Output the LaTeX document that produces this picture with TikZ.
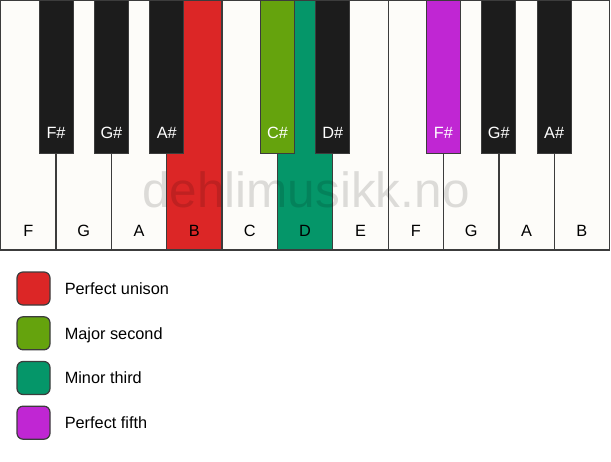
\documentclass[tikz,border=0pt]{standalone}
\usepackage{fontspec}
\setmainfont{Liberation Sans}
\usepackage{xcolor}
\usepackage{tikz}
\usetikzlibrary{positioning}
\definecolor{keywhite}{HTML}{FDFCF9}
\definecolor{keyblack}{HTML}{1C1C1C}
\definecolor{keyedge}{HTML}{3C3C3C}
\definecolor{unison}{HTML}{DC2626}
\definecolor{second}{HTML}{65A30D}
\definecolor{third}{HTML}{059669}
\definecolor{fifth}{HTML}{C026D3}
\newcommand{\keyfont}{\fontsize{16.3}{16.3}\selectfont}

\begin{document}
\begin{tikzpicture}[x=1pt, y=-1pt,
                          whitekey/.style={draw=keyedge, line width=1.3pt, fill=keywhite},
                          blackkey/.style={draw=keyedge, line width=1pt, fill=keyblack},
                          wlabel/.style={anchor=base, font=\keyfont, text=black},
                          blabel/.style={anchor=base, font=\keyfont, text=white},
                          watermark/.style={anchor=base, font=\fontsize{49.5}{49.5}\selectfont, text=black, text opacity=0.13},
                          legbox/.style={draw=keyedge, line width=1.2pt, rounded corners=6pt, minimum size=33pt, inner sep=0pt},
                          legtext/.style={inner sep=0pt, text height=11.5pt, text depth=0pt, font=\keyfont},
                         ]

\useasboundingbox (0,0) rectangle (611,461);

% white keys
\draw[whitekey] (0.7,0.7) rectangle (56.05,250);
\draw[whitekey] (56.05,0.7) rectangle (111.4,250);
\draw[whitekey] (111.4,0.7) rectangle (166.75,250);
\draw[whitekey, fill=unison] (166.75,0.7) rectangle (222.1,250);
\draw[whitekey] (222.1,0.7) rectangle (277.45,250);
\draw[whitekey, fill=third] (277.45,0.7) rectangle (332.8,250);
\draw[whitekey] (332.8,0.7) rectangle (388.15,250);
\draw[whitekey] (388.15,0.7) rectangle (443.5,250);
\draw[whitekey] (443.5,0.7) rectangle (498.85,250);
\draw[whitekey] (498.85,0.7) rectangle (554.2,250);
\draw[whitekey] (554.2,0.7) rectangle (609.55,250);

\node[wlabel] (F1) at (28.4,236) {F};
\node[wlabel] (G1) at (83.7,236) {G};
\node[wlabel] (A1) at (139.1,236) {A};
\node[wlabel] (B1) at (194.4,236) {B};
\node[wlabel] (C1) at (249.8,236) {C};
\node[wlabel] (D1) at (305.1,236) {D};
\node[wlabel] (E1) at (360.5,236) {E};
\node[wlabel] (F2) at (415.8,236) {F};
\node[wlabel] (G2) at (471.2,236) {G};
\node[wlabel] (A2) at (526.5,236) {A};
\node[wlabel] (B2) at (581.9,236) {B};

\node[watermark] (mark) at (305.9,207) {dehlimusikk.no};

% black keys
\draw[blackkey] (39.05,0.7) rectangle (73.05,153);
\draw[blackkey] (94.4,0.7) rectangle (128.4,153);
\draw[blackkey] (149.75,0.7) rectangle (183.75,153);
\draw[blackkey, fill=second] (260.45,0.7) rectangle (294.45,153);
\draw[blackkey] (315.8,0.7) rectangle (349.8,153);
\draw[blackkey, fill=fifth] (426.5,0.7) rectangle (460.5,153);
\draw[blackkey] (481.85,0.7) rectangle (515.85,153);
\draw[blackkey] (537.2,0.7) rectangle (571.2,153);

\node[blabel] (Fs1) at (56.05,138.3) {F\#};
\node[blabel] (Gs1) at (111.4,138.3) {G\#};
\node[blabel] (As1) at (166.75,138.3) {A\#};
\node[blabel] (Cs1) at (277.45,138.3) {C\#};
\node[blabel] (Ds1) at (332.8,138.3) {D\#};
\node[blabel] (Fs2) at (443.5,138.3) {F\#};
\node[blabel] (Gs2) at (498.85,138.3) {G\#};
\node[blabel] (As2) at (554.2,138.3) {A\#};

% legend
\node[legbox, fill=unison] (unisonbox) at (33.5,288.5) {};
\node[legbox, fill=second] (secondbox) at (33.5,333.3) {};
\node[legbox, fill=third] (thirdbox) at (33.5,378) {};
\node[legbox, fill=fifth] (fifthbox) at (33.5,422.7) {};

\node[legtext, right=14pt of unisonbox] (unisontext) {Perfect unison};
\node[legtext, right=14pt of secondbox] (secondtext) {Major second};
\node[legtext, right=14pt of thirdbox] (thirdtext) {Minor third};
\node[legtext, right=14pt of fifthbox] (fifthtext) {Perfect fifth};

\end{tikzpicture}
\end{document}
